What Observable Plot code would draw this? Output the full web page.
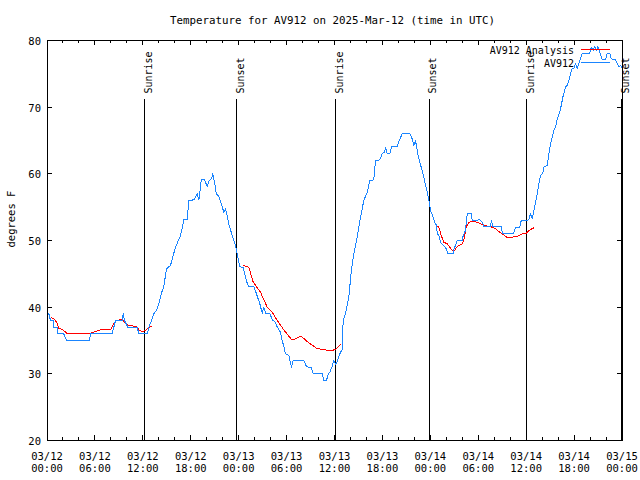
<!DOCTYPE html>
<html><head><meta charset="utf-8">
<script src="https://cdn.jsdelivr.net/npm/d3@7"></script>
<script src="https://cdn.jsdelivr.net/npm/@observablehq/plot@0.6"></script>
<style>
body{margin:0;background:#fff;}
#wrap{position:relative;width:640px;height:480px;font-family:"DejaVu Sans Mono",monospace;color:#000;}
#title{position:absolute;top:15px;left:0;width:665px;text-align:center;font-size:10.8px;line-height:11px;white-space:nowrap;}
#legend{position:absolute;left:0;top:0;pointer-events:none;}
</style></head>
<body><div id="wrap"><div id="title">Temperature for AV912 on 2025-Mar-12 (time in UTC)</div></div>
<script>
// hours since 2025-03-12 00:00 UTC, temperature (°F)
const blueObs = [[0.23,39],[0.44,38],[0.78,38],[0.85,37],[1.28,37],[1.35,36],[2.10,36],[2.44,35],[5.32,35],[5.45,36],[8.16,36],[8.58,38],[9.42,38],[9.54,39],[9.70,38],[10.12,37],[11.29,37],[11.50,36],[12.55,36],[12.75,37],[13.09,38],[13.37,39],[13.71,39.5],[14.0,40.5],[14.30,42],[14.63,43.1],[14.96,45.75],[15.46,46.25],[16.09,49],[16.72,50.75],[17.0,52.25],[17.13,53.1],[17.56,53.1],[17.76,56],[18.38,56.1],[18.81,57],[19.01,56.1],[19.13,57],[19.31,59.1],[19.72,59.1],[20.06,58.1],[20.26,58.9],[20.60,59.25],[20.76,60],[21.01,58.5],[21.19,57],[21.51,56.6],[21.81,55.6],[22.14,54.25],[22.35,54.75],[22.56,53.75],[22.76,52.5],[23.19,50.75],[23.60,49.25],[23.89,47.6],[24.14,46.1],[24.57,45.9],[24.86,44.5],[25.07,43.6],[25.27,43.1],[25.90,43.1],[26.23,42],[26.65,40.5],[26.95,39.1],[27.15,40],[27.36,39.1],[27.90,39.1],[28.20,38.1],[28.61,37.75],[28.83,37],[29.24,36.25],[29.45,35],[29.65,34.1],[29.87,33],[30.28,32.75],[30.62,31],[30.83,32],[32.16,32],[32.49,31.1],[33.08,30.9],[33.33,30],[34.46,30],[34.66,29],[35.0,29],[35.21,30],[35.41,30.25],[35.71,31.1],[35.91,32],[36.16,31.4],[36.41,32.1],[36.75,33.25],[36.94,33.5],[37.0,36.75],[37.17,38.25],[37.38,39.1],[37.59,40.25],[37.79,41.5],[38.09,45.25],[38.42,48],[38.84,50.5],[39.26,53.5],[39.67,56],[40.10,57.25],[40.42,59],[40.92,59.1],[41.14,62],[41.67,62.1],[41.97,63],[42.26,63.25],[42.39,64],[42.60,63],[42.93,63],[43.14,64.1],[43.85,64.1],[44.14,65.1],[44.48,66],[45.43,66],[45.73,65.25],[45.93,64.25],[46.14,65],[46.27,64.1],[46.43,63],[46.68,61.75],[46.98,60.5],[47.27,59],[47.61,57.25],[47.86,55.75],[48.02,54.5],[48.36,53.5],[48.53,52.75],[48.78,52.25],[48.86,51],[49.06,50.75],[49.27,49.75],[49.61,49.25],[49.90,49],[50.19,48.1],[50.86,48.1],[50.94,48.6],[51.37,50],[51.99,50],[52.12,50.75],[52.40,51.5],[52.62,54],[53.12,54],[53.24,53],[54.19,53.1],[54.50,52.75],[54.70,52.1],[55.53,52.1],[55.66,53],[55.79,52.1],[56.91,52.1],[57.0,51.1],[58.45,51.1],[58.66,52],[59.20,52],[59.38,53],[60.04,53],[60.33,53.1],[60.54,54],[60.76,53.25],[60.96,54.5],[61.17,55.6],[61.38,57],[61.58,58.5],[61.80,59.75],[62.08,60.1],[62.21,61],[62.63,61.25],[62.84,63],[63.05,64.5],[63.26,65.5],[63.46,66.5],[63.67,67],[63.89,68.25],[64.21,69.25],[64.39,70.25],[64.64,71.75],[64.93,73],[65.14,73.25],[65.34,74],[65.55,75],[65.76,75.75],[65.97,75.75],[66.18,76.5],[66.39,75.75],[66.59,76.5],[67.02,78.1],[67.97,78.1],[68.14,79],[68.39,78.5],[68.56,79.1],[68.81,78.5],[68.97,79.1],[69.22,78.25],[69.52,77.1],[69.93,77.1],[70.15,78.1],[70.47,78.1],[70.65,77.25],[71.19,77.1],[71.40,76.5],[71.60,76.1],[71.82,76.25],[71.94,76]];

const analysisSeg1 = [[0.53,38.4],[0.94,38.2],[1.31,37.5],[1.50,36.75],[1.94,36.7],[2.07,36.5],[2.57,36],[5.20,36],[5.45,36.1],[6.07,36.35],[6.70,36.6],[7.95,36.6],[8.33,37.5],[8.58,37.9],[9.33,38.2],[9.70,37.8],[10.21,37.25],[11.21,37.1],[11.58,36.5],[11.96,36.3],[12.33,36.5],[12.71,36.9],[13.09,37.1]];
const analysisSeg2 = [[24.57,46.25],[25.27,46.0],[25.82,43.75],[26.73,42.25],[27.57,40],[28.20,39.25],[28.83,38],[29.65,36.6],[30.62,35.15],[30.90,35.15],[31.66,35.6],[31.96,35.5],[32.78,34.65],[33.75,33.85],[34.66,33.6],[35.71,33.5],[36.25,33.75],[36.75,34.4]];
const analysisSeg3 = [[48.65,52.35],[49.06,52.0],[49.36,50.75],[49.69,49.75],[50.11,49.5],[50.74,48.5],[51.03,48.5],[51.37,49.1],[51.99,49.5],[52.19,50],[52.49,52],[52.82,52.75],[53.44,52.9],[54.07,52.65],[54.70,52.25],[55.53,52.1],[56.16,51.75],[56.79,51.15],[57.70,50.4],[58.25,50.5],[58.88,50.6],[59.50,51],[60.04,51.1],[60.33,51.5],[60.96,51.9]];

const sunHours = [12.25, 23.77, 36.17, 47.86, 60.08, 71.94];
const sunLabels = ["Sunrise","Sunset","Sunrise","Sunset","Sunrise","Sunset"];
const yTicks = [20,30,40,50,60,70,80];
const seriesNames = ["AV912 Analysis","AV912"];
const seriesColors = ["#ff0000","#1a85ff"];

const START = Date.UTC(2025,2,12);
const toDate = h => new Date(START + h*3600e3);
const blueRows = blueObs.map(([h,v]) => ({t: toDate(h), v}));
const redRows = [analysisSeg1, analysisSeg2, analysisSeg3].flatMap((seg,i) => seg.map(([h,v]) => ({t: toDate(h), v, seg: i})));
const sunRows = sunHours.map((h,i) => ({t: toDate(h), label: sunLabels[i]}));
const xMajor = d3.utcHour.every(6).range(toDate(0), toDate(72.01));
const xMinor = d3.utcHour.every(2).range(toDate(0), toDate(72.01)).filter(d => d.getUTCHours() % 6 !== 0);
const fmt = d => d3.utcFormat("%m/%d")(d) + "\n" + d3.utcFormat("%H:%M")(d);

const FH = 400, FW = 575;
const crisp = {shapeRendering: "crispEdges"};
const chart = Plot.plot({
  width: 640, height: 480,
  marginTop: 40, marginBottom: 40, marginLeft: 46.5, marginRight: 18.5,
  style: {fontFamily: "DejaVu Sans Mono", fontSize: "10.5px", color: "black", background: "white", overflow: "visible"},
  x: {type: "utc", domain: [toDate(0), toDate(72)]},
  y: {domain: [20, 80]},
  marks: [
    Plot.axisX({ticks: xMajor, tickSize: 0, tickPadding: 11, tickFormat: fmt, label: null, lineHeight: 1.143}),
    Plot.axisY({ticks: yTicks, tickSize: 0, tickPadding: 6, label: null, dy: 1}),
    Plot.tickX(xMajor, {x: d => d, insetTop: FH - 5, stroke: "black", ...crisp}),
    Plot.tickX(xMinor, {x: d => d, insetTop: FH - 3, stroke: "black", ...crisp}),
    Plot.tickX(xMajor, {x: d => d, insetBottom: FH - 5, stroke: "black", ...crisp}),
    Plot.tickX(xMinor, {x: d => d, insetBottom: FH - 3, stroke: "black", ...crisp}),
    Plot.tickY(yTicks, {y: d => d, insetRight: FW - 5, stroke: "black", ...crisp}),
    Plot.tickY(yTicks, {y: d => d, insetLeft: FW - 5, stroke: "black", ...crisp}),
    Plot.ruleX(sunRows, {x: "t", insetTop: 59, stroke: "black", strokeWidth: 1, ...crisp}),
    Plot.text(sunRows, {x: "t", text: "label", frameAnchor: "top", rotate: -90, textAnchor: "start", dy: 53, fill: "black", fontSize: 10}),
    Plot.line(redRows, {x: "t", y: "v", z: "seg", stroke: seriesColors[0], strokeWidth: 1, ...crisp}),
    Plot.line(blueRows, {x: "t", y: "v", stroke: seriesColors[1], strokeWidth: 1, ...crisp}),
    Plot.text(["degrees F"], {text: d => d, frameAnchor: "left", rotate: -90, dx: -35.5, dy: 7, fill: "black"}),
    Plot.frame({stroke: "black", ...crisp})
  ]
});
const wrap = document.getElementById("wrap");
wrap.insertBefore(chart, wrap.firstChild);

// legend (top right, inside the frame)
const ns = "http://www.w3.org/2000/svg";
const lg = document.createElementNS(ns, "svg");
lg.setAttribute("id", "legend");
lg.setAttribute("width", 640); lg.setAttribute("height", 80);
seriesNames.forEach((name, i) => {
  const y = 49.5 + i * 13;
  const t = document.createElementNS(ns, "text");
  t.setAttribute("x", 574); t.setAttribute("y", y + 4);
  t.setAttribute("text-anchor", "end");
  t.setAttribute("font-family", "DejaVu Sans Mono");
  t.setAttribute("font-size", "10px");
  t.textContent = name;
  lg.appendChild(t);
  const l = document.createElementNS(ns, "line");
  l.setAttribute("x1", 581); l.setAttribute("x2", 610);
  l.setAttribute("y1", y); l.setAttribute("y2", y);
  l.setAttribute("stroke", seriesColors[i]);
  l.setAttribute("stroke-width", 1);
  l.setAttribute("shape-rendering", "crispEdges");
  lg.appendChild(l);
});
wrap.appendChild(lg);
</script>
</body></html>
